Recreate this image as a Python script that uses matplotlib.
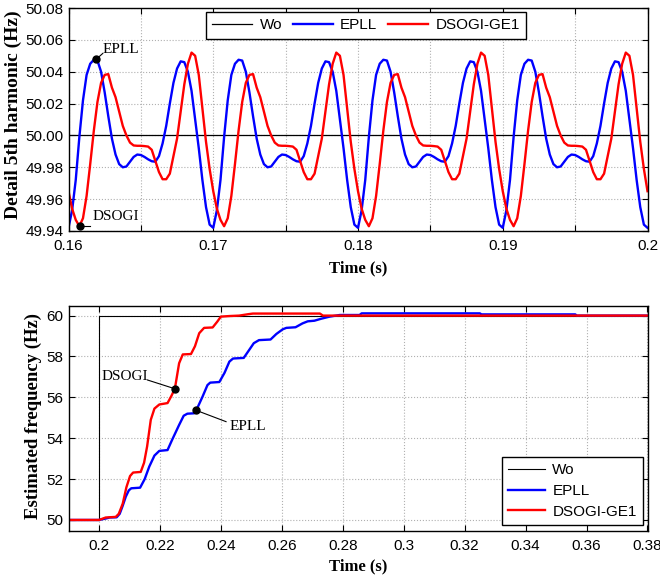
import numpy as np
import matplotlib
matplotlib.use("Agg")
import matplotlib.pyplot as plt

# ---- top panel: 5th harmonic detail, one 0.01 s period sampled every 0.25 ms
dt = 0.00025
t_start = 0.16
n_periods = 4
epll_period = [49.942, 49.953, 49.972, 49.999, 50.022, 50.038, 50.045, 50.0475,
               50.047, 50.040, 50.027, 50.012, 49.998, 49.988, 49.982, 49.980,
               49.9805, 49.9835, 49.9865, 49.988, 49.9877, 49.9865, 49.985, 49.9838,
               49.9835, 49.987, 49.995, 50.006, 50.020, 50.033, 50.042, 50.0465,
               50.046, 50.040, 50.028, 50.010, 49.992, 49.972, 49.955, 49.944]
dsogi_period = [49.965, 49.954, 49.947, 49.943, 49.948, 49.962, 49.982, 50.003,
                50.021, 50.033, 50.038, 50.0385, 50.030, 50.024, 50.015, 50.006,
                50.000, 49.9955, 49.9937, 49.9935, 49.9935, 49.9933, 49.993, 49.991,
                49.984, 49.977, 49.9725, 49.9725, 49.976, 49.987, 49.998, 50.015,
                50.032, 50.045, 50.052, 50.050, 50.038, 50.017, 49.996, 49.979]
wo_top = 50.0

# ---- bottom panel: frequency step 50 -> 60 Hz
wo_t = [0.19, 0.2, 0.2, 0.38]
wo_f = [50, 50, 60, 60]
epll_t = [0.19, 0.2, 0.2025, 0.2035, 0.2058, 0.2068, 0.2078, 0.2088, 0.2098, 0.2106,
          0.2135, 0.2150, 0.2165, 0.2182, 0.2198, 0.2225, 0.2240, 0.2263, 0.2278, 0.2290,
          0.2312, 0.2325, 0.2340, 0.2356, 0.2365, 0.2395, 0.2412, 0.2428, 0.2440, 0.2475,
          0.2492, 0.2508, 0.2525, 0.2563, 0.2582, 0.2603, 0.2615, 0.2645, 0.2668, 0.2685,
          0.2707, 0.2730, 0.2757, 0.2790, 0.2855, 0.2862, 0.3250, 0.3255, 0.3563, 0.3568, 0.38]
epll_f = [50.0, 50.0, 50.08, 50.12, 50.13, 50.3, 50.7, 51.14, 51.45, 51.55,
          51.58, 52.0, 52.61, 53.15, 53.38, 53.42, 53.92, 54.65, 55.1, 55.2,
          55.22, 55.55, 56.04, 56.6, 56.72, 56.75, 57.2, 57.75, 57.9, 57.93,
          58.3, 58.65, 58.8, 58.83, 59.1, 59.33, 59.4, 59.43, 59.62, 59.72,
          59.75, 59.85, 59.95, 60.03, 60.03, 60.11, 60.11, 60.06, 60.06, 60.0, 60.0]
dsogi_t = [0.19, 0.2, 0.2022, 0.2055, 0.2065, 0.2078, 0.2090, 0.2102, 0.2112, 0.2137,
           0.2148, 0.2158, 0.2170, 0.2182, 0.2198, 0.2225, 0.2237, 0.2249, 0.2263, 0.2275,
           0.2302, 0.2315, 0.2329, 0.2345, 0.2373, 0.2388, 0.2400, 0.2430, 0.2460, 0.2490,
           0.2505, 0.2725, 0.2735, 0.38]
dsogi_f = [50.0, 50.0, 50.12, 50.15, 50.3, 50.8, 51.6, 52.15, 52.32, 52.35,
           52.8, 53.6, 54.9, 55.45, 55.65, 55.72, 56.05, 56.42, 57.67, 58.1,
           58.12, 58.5, 59.14, 59.4, 59.42, 59.7, 59.95, 59.98, 60.0, 60.07,
           60.1, 60.1, 60.0, 60.0]

n = len(epll_period) * n_periods
t_top = t_start + dt * np.arange(n + 1)
epll_top = np.append(np.tile(epll_period, n_periods), epll_period[0])
dsogi_top = np.append(np.tile(dsogi_period, n_periods), dsogi_period[0])

sans = "Liberation Sans"
serif = "Liberation Serif"
plt.rcParams["font.family"] = sans
plt.rcParams["font.size"] = 11

fig = plt.figure(figsize=(6.6, 5.77), dpi=100)
ax1 = fig.add_axes([68.5 / 660, 1 - 231 / 577, 579 / 660, 223 / 577])
ax2 = fig.add_axes([68.5 / 660, 1 - 531 / 577, 579 / 660, 225 / 577])

blue = "#0000ff"
red = "#ff0000"

# top
ax1.plot([t_start, 0.2], [wo_top, wo_top], color="black", lw=0.9, label="Wo")
ax1.plot(t_top, epll_top, color=blue, lw=1.7, label="EPLL")
ax1.plot(t_top, dsogi_top, color=red, lw=1.7, label="DSOGI-GE1")
ax1.set_xlim(0.16, 0.2)
ax1.set_ylim(49.94, 50.08)
xt = np.arange(0.16, 0.2001, 0.005)
ax1.set_xticks(xt)
ax1.set_xticklabels(["0.16", "", "0.17", "", "0.18", "", "0.19", "", "0.2"])
yt = np.arange(49.94, 50.081, 0.02)
ax1.set_yticks(yt)
ax1.set_yticklabels(["%.2f" % v for v in yt])
ax1.set_ylabel("Detail 5th harmonic (Hz)", family=serif, weight="bold", fontsize=14)
ax1.yaxis.set_label_coords(-0.081, 0.52)
ax1.set_xlabel("Time (s)", family=serif, weight="bold", fontsize=12)
ax1.xaxis.set_label_coords(0.5, -0.13)

ax1.plot([0.16191], [50.0478], "o", color="black", ms=5)
ax1.plot([0.16191, 0.16237], [50.0478, 50.0515], color="black", lw=0.8)
ax1.text(0.16237, 50.052, "EPLL", family=serif, fontsize=11)
ax1.plot([0.16076], [49.9432], "o", color="black", ms=5)
ax1.plot([0.16076, 0.1615], [49.9432, 49.9432], color="black", lw=0.8)
ax1.text(0.16166, 49.947, "DSOGI", family=serif, fontsize=11)

ax1.legend(loc="upper center", bbox_to_anchor=(0.514, 0.982), ncol=3,
           fancybox=False, edgecolor="black", framealpha=1, handlelength=2.6,
           columnspacing=0.7, borderpad=0.42, handletextpad=0.5, borderaxespad=0)

# bottom
ax2.plot(wo_t, wo_f, color="black", lw=0.8, label="Wo")
ax2.plot(epll_t, epll_f, color=blue, lw=1.7, label="EPLL")
ax2.plot(dsogi_t, dsogi_f, color=red, lw=1.7, label="DSOGI-GE1")
ax2.set_xlim(0.19, 0.38)
ax2.set_ylim(49.46, 60.47)
xt2 = np.arange(0.2, 0.3801, 0.02)
ax2.set_xticks(xt2)
ax2.set_xticklabels(["%g" % round(v, 2) for v in xt2])
ax2.set_yticks(np.arange(50, 61, 2))
ax2.set_ylabel("Estimated frequency (Hz)", family=serif, weight="bold", fontsize=13.5)
ax2.yaxis.set_label_coords(-0.046, 0.51)
ax2.set_xlabel("Time (s)", family=serif, weight="bold", fontsize=12)
ax2.xaxis.set_label_coords(0.5, -0.12)

ax2.plot([0.2249], [56.42], "o", color="black", ms=5)
ax2.plot([0.2249, 0.2159], [56.42, 56.85], color="black", lw=0.8)
ax2.text(0.201, 56.85, "DSOGI", family=serif, fontsize=11)
ax2.plot([0.2318], [55.37], "o", color="black", ms=5)
ax2.plot([0.2318, 0.2417], [55.37, 54.81], color="black", lw=0.8)
ax2.text(0.2428, 54.41, "EPLL", family=serif, fontsize=11)

ax2.legend(loc="lower right", bbox_to_anchor=(0.992, 0.027), ncol=1,
           fancybox=False, edgecolor="black", framealpha=1, handlelength=2.4,
           borderpad=0.4, handletextpad=0.5, labelspacing=0.45, borderaxespad=0)

for ax in (ax1, ax2):
    ax.grid(True, linestyle=":", color="#b0b0b0", lw=0.8)
    ax.tick_params(direction="in", top=True, right=True, length=4, width=0.8)
    ax.tick_params(axis="x", pad=6)
    for s in ax.spines.values():
        s.set_linewidth(1.0)

fig.savefig("out.png", dpi=100)
